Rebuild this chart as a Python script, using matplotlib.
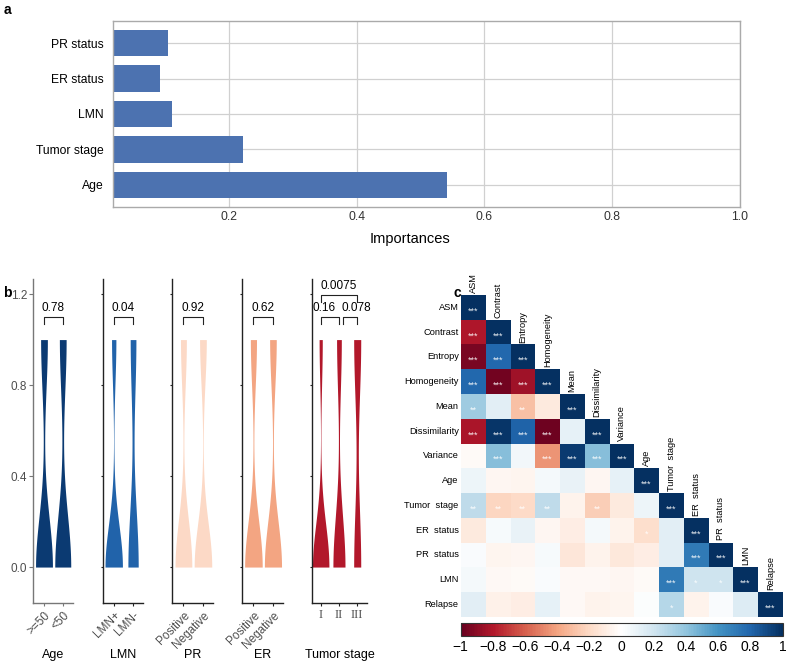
import numpy as np
import matplotlib
matplotlib.use('Agg')
import matplotlib.pyplot as plt
import seaborn as sns
from matplotlib.colors import LinearSegmentedColormap

plt.rcParams['font.family'] = ['Liberation Sans', 'DejaVu Sans']

# ---- panel a: feature importances
features = ['Age', 'Tumor stage', 'LMN', 'ER status', 'PR status']
importances = [0.542, 0.222, 0.111, 0.092, 0.105]

# ---- panel b: counts of (no relapse, relapse) per group
age_groups = ['>=50', '<50']
age_counts = [(30, 12), (26, 11)]
lmn_groups = ['LMN+', 'LMN-']
lmn_counts = [(40, 10), (18, 10)]
pr_groups = ['Positive', 'Negative']
pr_counts = [(37, 13), (55, 21)]
er_groups = ['Positive', 'Negative']
er_counts = [(40, 14), (44, 17)]
stage_groups = ['I', 'II', 'III']
stage_counts = [(26, 5), (28, 11), (14, 14)]
age_p = '0.78'
lmn_p = '0.04'
pr_p = '0.92'
er_p = '0.62'
stage_p12 = '0.16'
stage_p23 = '0.078'
stage_p13 = '0.0075'

# ---- panel c: correlation matrix (lower triangle)
corr_labels = ['ASM', 'Contrast', 'Entropy', 'Homogeneity', 'Mean', 'Dissimilarity',
               'Variance', 'Age', 'Tumor  stage', 'ER  status', 'PR  status', 'LMN', 'Relapse']
corr_lower = [
    [1],
    [-0.80, 1],
    [-0.95, 0.78, 1],
    [0.78, -0.97, -0.85, 1],
    [0.35, 0.12, -0.30, -0.12, 1],
    [-0.82, 0.97, 0.80, -0.98, 0.10, 1],
    [-0.03, 0.42, 0.05, -0.45, 0.95, 0.42, 1],
    [0.07, -0.05, -0.06, 0.04, 0.09, -0.05, 0.10, 1],
    [0.25, -0.22, -0.20, 0.25, -0.07, -0.25, -0.12, 0.07, 1],
    [-0.12, 0.03, 0.09, -0.05, -0.10, 0.04, -0.07, -0.18, 0.12, 1],
    [0.02, -0.06, -0.05, 0.03, -0.14, -0.07, -0.13, -0.10, 0.13, 0.70, 1],
    [0.04, -0.04, -0.03, 0.02, -0.04, -0.04, -0.05, -0.03, 0.70, 0.20, 0.20, 1],
    [0.12, -0.08, -0.10, 0.10, -0.04, -0.07, -0.06, 0.01, 0.28, -0.07, 0.02, 0.15, 1],
]
corr_stars = [
    ['***'],
    ['***', '***'],
    ['***', '***', '***'],
    ['***', '***', '***', '***'],
    ['**', '', '**', '', '***'],
    ['***', '***', '***', '***', '', '***'],
    ['', '***', '', '***', '***', '***', '***'],
    ['', '', '', '', '', '', '', '***'],
    ['**', '**', '**', '**', '', '**', '', '', '***'],
    ['', '', '', '', '', '', '', '*', '', '***'],
    ['', '', '', '', '', '', '', '', '', '***', '***'],
    ['', '', '', '', '', '', '', '', '***', '*', '*', '***'],
    ['', '', '', '', '', '', '', '', '*', '', '', '', '***'],
]

W, H = 787, 663
fig = plt.figure(figsize=(W/100, H/100), dpi=100)


def box(x0, y0, x1, y1):
    # pixel box (top-left origin) -> figure fraction rect
    return [x0/W, 1 - y1/H, (x1 - x0)/W, (y1 - y0)/H]


# ---------------- a
ax = fig.add_axes(box(113.3, 20.7, 740, 207.3))
ypos = np.arange(len(features))
ax.barh(ypos, importances, height=0.75, color='#4C72B0', zorder=2)
ax.set_yticks(ypos)
ax.set_yticklabels(features, fontsize=8.7)
ax.set_xlim(0.019, 1.0)
ax.set_ylim(-0.63, len(features) - 0.37)
ax.set_xticks([0.2, 0.4, 0.6, 0.8, 1.0])
ax.set_xticklabels(['0.2', '0.4', '0.6', '0.8', '1.0'], fontsize=8.7, color='#333333')
ax.grid(True, color='#d0d0d0', lw=0.9, zorder=0)
ax.set_axisbelow(True)
ax.tick_params(axis='y', length=0, pad=7)
ax.tick_params(axis='x', length=0, pad=3)
for sp in ax.spines.values():
    sp.set_color('#aaaaaa')
    sp.set_linewidth(1.0)
ax.set_xlabel('Importances', fontsize=10.5, labelpad=3)
ax.xaxis.set_label_coords(0.473, -0.13)
fig.text(4/W, 1 - 10/H, 'a', fontsize=10, fontweight='bold', va='center')


# ---------------- b
def draw_violins(ax, groups, counts, color):
    xs, ys = [], []
    for g, (n0, n1) in zip(groups, counts):
        xs += [g] * (n0 + n1)
        ys += [0.0] * n0 + [1.0] * n1
    sns.violinplot(x=xs, y=ys, order=groups, ax=ax, color=color, saturation=1,
                   cut=0, inner=None, linewidth=0, density_norm='area', width=0.9)


def bracket(ax, x0, x1, y, text, tx=None, tip=0.03):
    ax.plot([x0, x0, x1, x1], [y - tip, y, y, y - tip], color='#222222', lw=0.8,
            clip_on=False)
    if tx is None:
        tx = (x0 + x1) / 2
    ax.text(tx, y + 0.012, text, ha='center', va='bottom', fontsize=8.5,
            clip_on=False)


panels = [
    (33.3, 72.7, age_groups, age_counts, '#0B3A72', 'Age'),
    (102.7, 143.3, lmn_groups, lmn_counts, '#2163AA', 'LMN'),
    (172.3, 213.3, pr_groups, pr_counts, '#FCD9C6', 'PR'),
    (242.3, 283.3, er_groups, er_counts, '#F3A582', 'ER'),
    (312.3, 366.7, stage_groups, stage_counts, '#B2182B', 'Tumor stage'),
]
p_two = [age_p, lmn_p, pr_p, er_p]
for k, (x0, x1, groups, counts, color, title) in enumerate(panels):
    ax = fig.add_axes(box(x0, 279.3, x1, 603))
    draw_violins(ax, groups, counts, color)
    ax.set_ylim(-0.158, 1.265)
    ax.set_xlabel('')
    ax.set_ylabel('')
    for sp in ('top', 'right'):
        ax.spines[sp].set_visible(False)
    spc = '#777777' if k == 0 else '#222222'
    for sp in ('left', 'bottom'):
        ax.spines[sp].set_color(spc)
        ax.spines[sp].set_linewidth(1.0)
    ax.set_yticks([0.0, 0.4, 0.8, 1.2])
    n = len(groups)
    ax.set_xticks(range(n))
    if n == 2:
        ax.set_xlim(-0.57, 1.53)
        ax.set_xticklabels(groups, rotation=45, ha='right', rotation_mode='anchor',
                           fontsize=8.5, color='#4D4D4D')
        bracket(ax, 0, 1, 1.10, p_two[k])
    else:
        ax.set_xlim(-0.46, 2.52)
        ax.set_xticklabels(groups, fontsize=9, color='#4D4D4D',
                           family=['Liberation Serif', 'DejaVu Serif'])
        bracket(ax, 0, 1, 1.10, stage_p12, tx=0.2)
        bracket(ax, 1.2, 2, 1.10, stage_p23, tx=1.97)
        bracket(ax, 0, 2, 1.196, stage_p13)
    if k == 0:
        ax.set_yticklabels(['0.0', '0.4', '0.8', '1.2'], fontsize=8.5, color='#4D4D4D')
        ax.tick_params(axis='y', length=3, color=spc, pad=1.5)
    else:
        ax.set_yticklabels([])
        ax.tick_params(axis='y', length=1.5, color=spc)
    ax.tick_params(axis='x', length=2.5, color=spc, pad=2)
    fig.text((x0 + x1) / 2 / W, 1 - 655 / H, title, ha='center', va='center', fontsize=9)

fig.text(3/W, 1 - 293/H, 'b', fontsize=10, fontweight='bold', va='center')

# ---------------- c
cmap = LinearSegmentedColormap.from_list('corrRdBu', [
    '#67001F', '#B2182B', '#D6604D', '#F4A582', '#FDDBC7', '#FFFFFF',
    '#D1E5F0', '#92C5DE', '#4393C3', '#2166AC', '#053061'], N=200)
cmap.set_bad((1, 1, 1, 0))
nv = len(corr_labels)
mat = np.full((nv, nv), np.nan)
for i, row in enumerate(corr_lower):
    mat[i, :len(row)] = row
ax = fig.add_axes(box(460.7, 295, 782.7, 616.7))
im = ax.imshow(np.ma.masked_invalid(mat), cmap=cmap, vmin=-1, vmax=1, aspect='auto',
               extent=(-0.5, nv - 0.5, nv - 0.5, -0.5), interpolation='nearest')
ax.set_xlim(-0.5, nv - 0.5)
ax.set_ylim(nv - 0.5, -0.5)
ax.axis('off')
for i, lab in enumerate(corr_labels):
    ax.text(-0.58, i, lab, ha='right', va='center', fontsize=6.7, clip_on=False)
    ax.text(i, i - 0.58, lab, ha='center', va='bottom', rotation=90, fontsize=6.7,
            clip_on=False)
for i, row in enumerate(corr_stars):
    for j, st in enumerate(row):
        if st:
            ax.text(j, i + 0.15, st, ha='center', va='center', fontsize=6.5,
                    color='white', alpha=0.9)

cax = fig.add_axes(box(460.7, 622.7, 782.7, 636))
cb = fig.colorbar(im, cax=cax, orientation='horizontal')
ticks = np.round(np.arange(-1, 1.01, 0.2), 1)
cb.set_ticks(ticks)
cb.set_ticklabels([('%g' % t).replace('-', '\u2212') if abs(t) > 1e-9 else '0'
                   for t in ticks])
cb.ax.tick_params(length=0, pad=3, labelsize=10)
cb.outline.set_linewidth(0.8)
cb.outline.set_edgecolor('#333333')
fig.text(453/W, 1 - 293/H, 'c', fontsize=10, fontweight='bold', va='center')

fig.savefig('out.png', dpi=100)
